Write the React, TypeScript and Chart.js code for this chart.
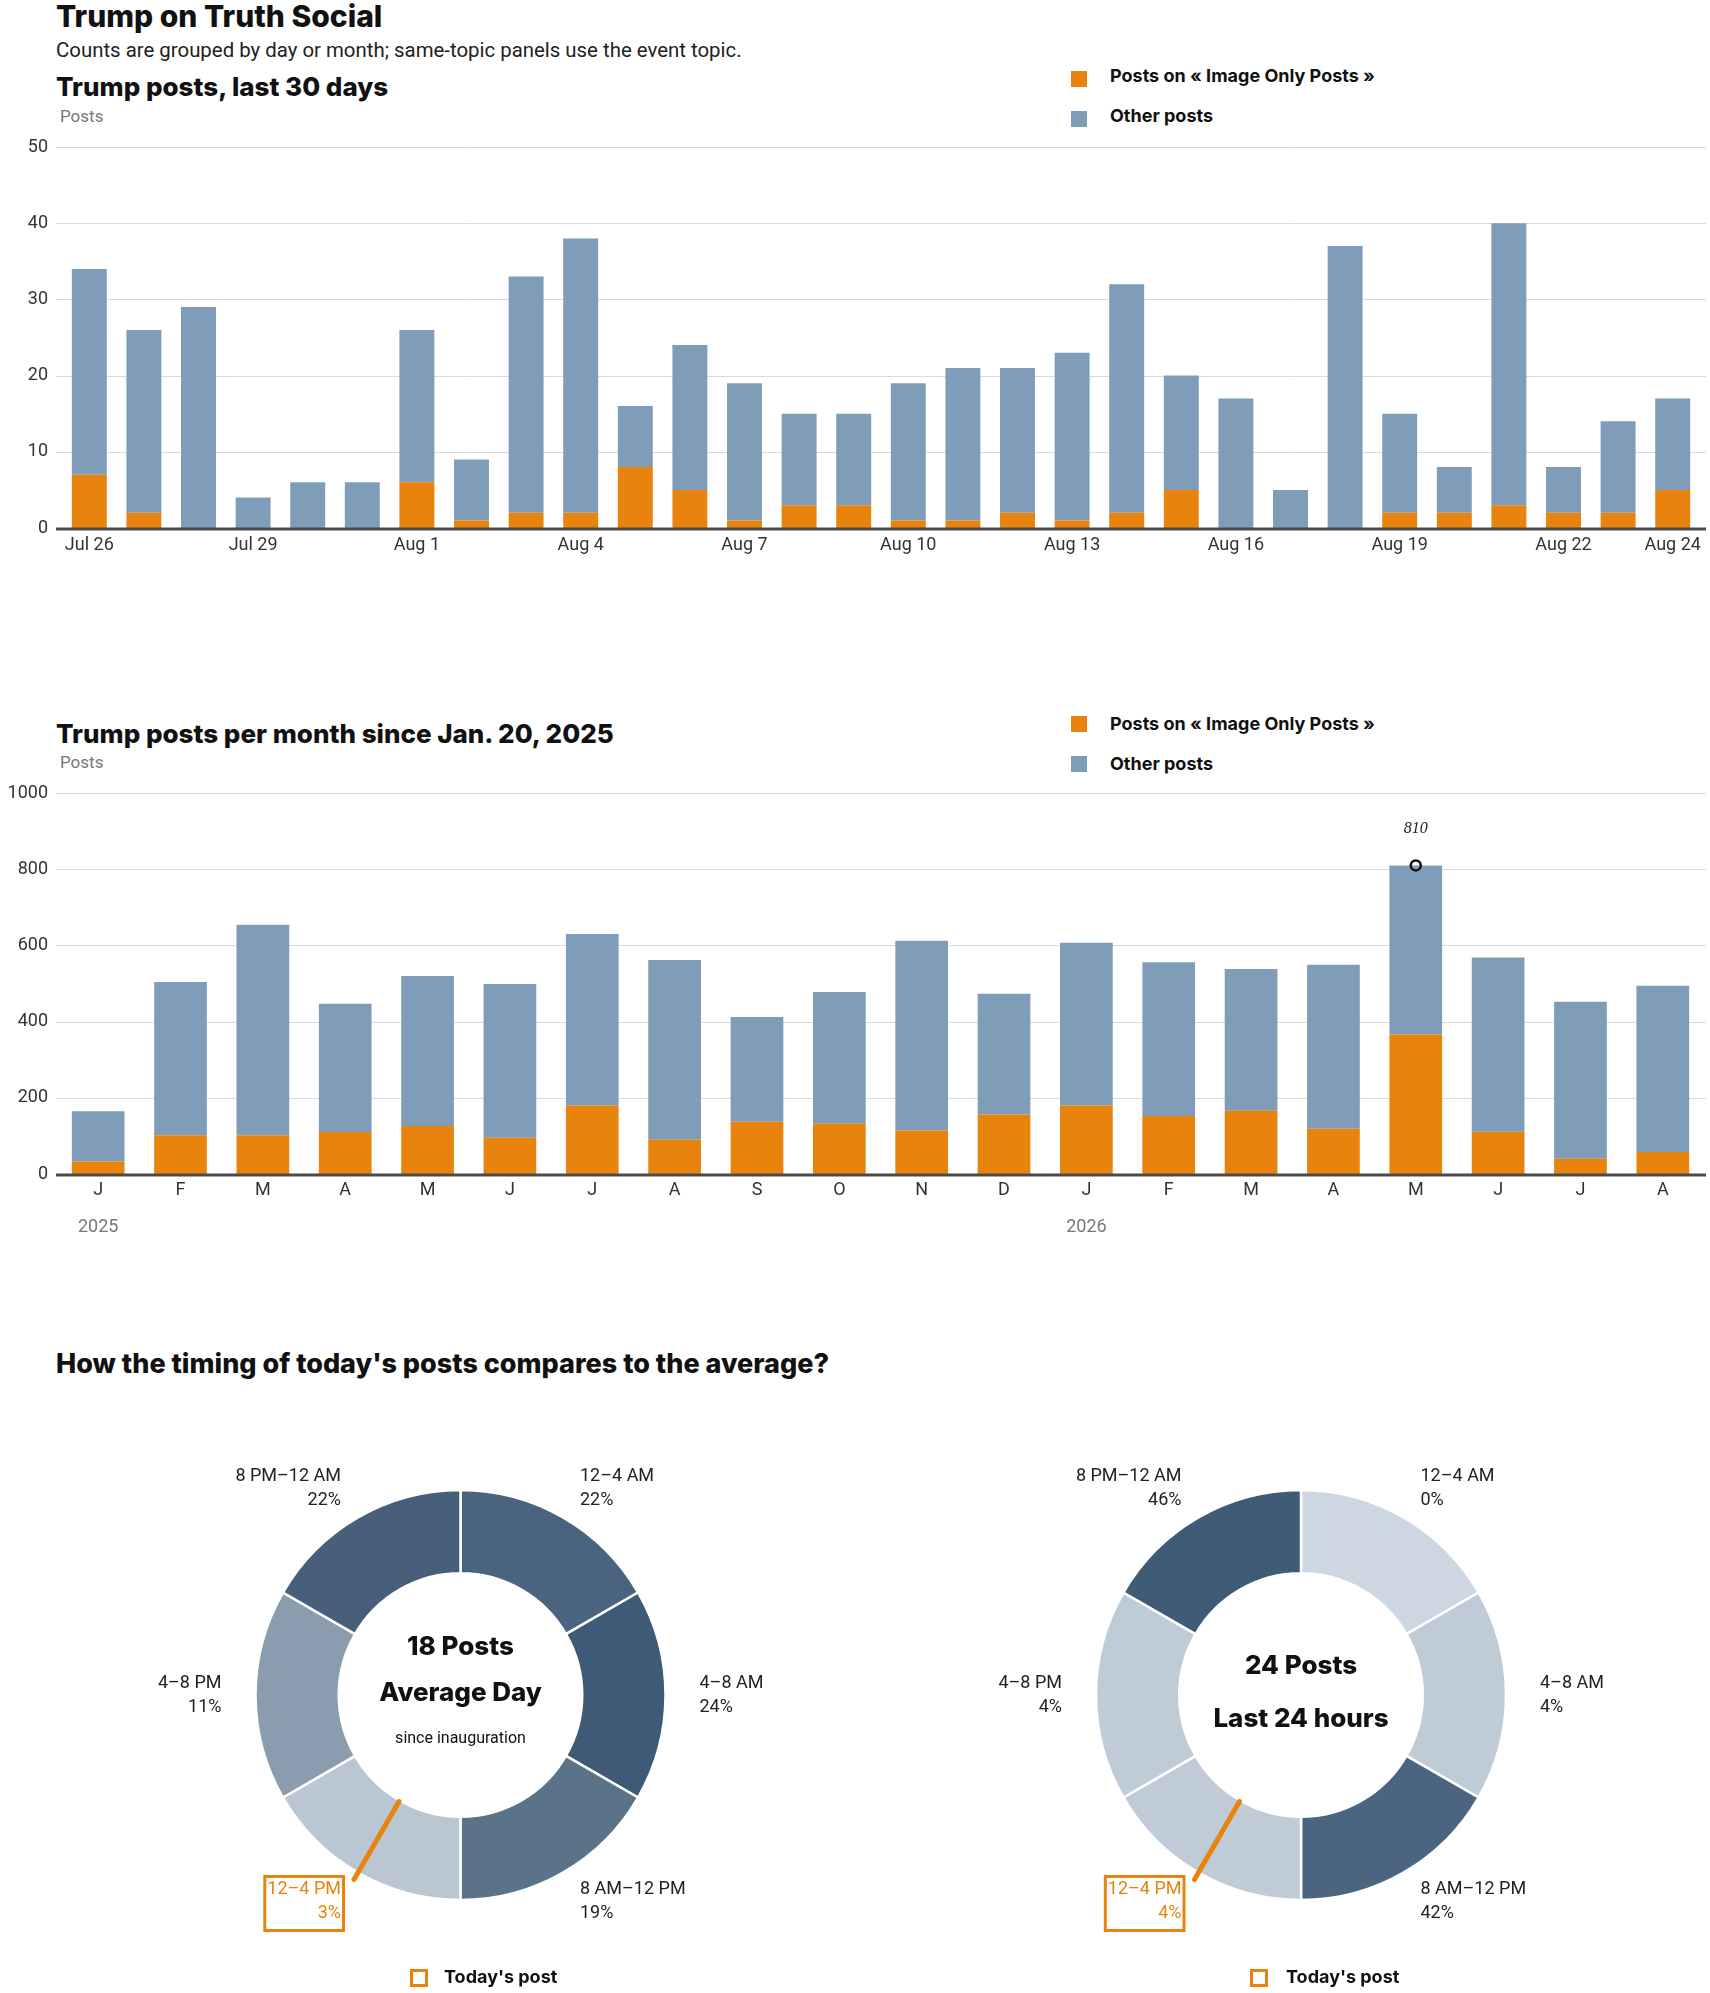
import React, { useEffect, useRef } from 'react';
import Chart from 'chart.js/auto';

const FONT = 'Roboto, "Liberation Sans", Arial, sans-serif';
const HEAVY = 'Inter, Roboto, "Liberation Sans", sans-serif';
const ORANGE = '#e8830e';
const BLUE = '#7f9cb8';
const INK = '#222';

// last 30 days
const dayLabels = [
    'Jul 26', 'Jul 27', 'Jul 28', 'Jul 29', 'Jul 30', 'Jul 31',
    'Aug 1', 'Aug 2', 'Aug 3', 'Aug 4', 'Aug 5', 'Aug 6', 'Aug 7', 'Aug 8', 'Aug 9', 'Aug 10',
    'Aug 11', 'Aug 12', 'Aug 13', 'Aug 14', 'Aug 15', 'Aug 16', 'Aug 17', 'Aug 18', 'Aug 19', 'Aug 20',
    'Aug 21', 'Aug 22', 'Aug 23', 'Aug 24',
];
const dayTickLabels = ['Jul 26', 'Jul 29', 'Aug 1', 'Aug 4', 'Aug 7', 'Aug 10', 'Aug 13', 'Aug 16', 'Aug 19', 'Aug 22', 'Aug 24'];
const dayImageOnly = [7, 2, 0, 0, 0, 0, 6, 1, 2, 2, 8, 5, 1, 3, 3, 1, 1, 2, 1, 2, 5, 0, 0, 0, 2, 2, 3, 2, 2, 5];
const dayOther = [27, 24, 29, 4, 6, 6, 20, 8, 31, 36, 8, 19, 18, 12, 12, 18, 20, 19, 22, 30, 15, 17, 5, 37, 13, 6, 37, 6, 12, 12];
const dayTicks = [0, 10, 20, 30, 40, 50];

// per month since inauguration
const monthLabels = ['J', 'F', 'M', 'A', 'M', 'J', 'J', 'A', 'S', 'O', 'N', 'D', 'J', 'F', 'M', 'A', 'M', 'J', 'J', 'A'];
const monthImageOnly = [33, 102, 102, 110, 126, 95, 180, 90, 137, 132, 114, 156, 180, 152, 166, 119, 366, 111, 40, 58];
const monthOther = [132, 402, 552, 337, 394, 404, 450, 472, 275, 346, 498, 317, 427, 404, 372, 430, 444, 457, 412, 436];
const yearMarks: [number, string][] = [[0, '2025'], [12, '2026']];
const peakIndex = 16;
const peakValue = 810;

// time of day
const hourWindows = ['12–4 AM', '4–8 AM', '8 AM–12 PM', '12–4 PM', '4–8 PM', '8 PM–12 AM'];
const windowHours = [4, 4, 4, 4, 4, 4];
const averageShare = [22, 24, 19, 3, 11, 22];
const last24Share = [0, 4, 42, 4, 4, 46];
const averagePosts = 18;
const last24Posts = 24;
const todayPostHour = 14;
const todayWindow = 3;

const averageColors = ['#4a6480', '#3e5a76', '#5b7389', '#bac7d3', '#8a9cad', '#475f7b'];
const last24Colors = ['#cdd7e1', '#bfcbd7', '#4b6580', '#bfcbd7', '#bfcbd7', '#405b76'];

// grid lines run a bit wider than the bars, like the original
const fullGrid = {
    id: 'fullGrid',
    beforeDatasetsDraw(chart: any, _args: any, opts: any) {
        const { ctx } = chart;
        const y = chart.scales.y;
        ctx.save();
        ctx.strokeStyle = '#dadada';
        ctx.lineWidth = 1;
        y.ticks.forEach((t: any) => {
            if (t.value === 0) return;
            const py = Math.round(y.getPixelForValue(t.value)) + 0.5;
            ctx.beginPath();
            ctx.moveTo(opts.left, py);
            ctx.lineTo(opts.right, py);
            ctx.stroke();
        });
        ctx.restore();
    },
    afterDatasetsDraw(chart: any, _args: any, opts: any) {
        const { ctx } = chart;
        const y0 = chart.scales.y.getPixelForValue(0);
        ctx.save();
        ctx.fillStyle = '#4a4a4a';
        ctx.fillRect(opts.left, y0 - 0.5, opts.right - opts.left, 3);
        ctx.restore();
    },
};

const monthExtras = {
    id: 'monthExtras',
    afterDraw(chart: any) {
        const { ctx } = chart;
        const x = chart.scales.x;
        ctx.save();
        ctx.font = `18px ${FONT}`;
        ctx.fillStyle = '#777';
        ctx.textAlign = 'center';
        ctx.textBaseline = 'middle';
        yearMarks.forEach(([i, text]) => {
            ctx.fillText(text, x.getPixelForValue(i), chart.chartArea.bottom + 53);
        });
        const pt = chart.getDatasetMeta(2).data[peakIndex];
        if (pt) {
            ctx.font = `italic 16px "Liberation Serif", serif`;
            ctx.fillStyle = INK;
            ctx.fillText(String(peakValue), pt.x, pt.y - 37);
        }
        ctx.restore();
    },
};

const donutDeco = {
    id: 'donutDeco',
    afterDatasetsDraw(chart: any, _args: any, opts: any) {
        const { ctx } = chart;
        const arcs = chart.getDatasetMeta(0).data;
        if (!arcs.length) return;
        const cx = arcs[0].x;
        const cy = arcs[0].y;
        ctx.save();

        // today's post tick
        const a = (opts.hour / 24) * Math.PI * 2 - Math.PI / 2;
        ctx.strokeStyle = ORANGE;
        ctx.lineWidth = 5;
        ctx.lineCap = 'round';
        ctx.beginPath();
        ctx.moveTo(cx + 123 * Math.cos(a), cy + 123 * Math.sin(a));
        ctx.lineTo(cx + 213 * Math.cos(a), cy + 213 * Math.sin(a));
        ctx.stroke();

        // slice labels
        ctx.font = `18px ${FONT}`;
        ctx.textBaseline = 'middle';
        arcs.forEach((arc: any, i: number) => {
            const mid = (arc.startAngle + arc.endAngle) / 2;
            const c = Math.cos(mid);
            const s = Math.sin(mid);
            const x = cx + 239 * c;
            const y = cy + 239 * s;
            ctx.textAlign = c > 0.01 ? 'left' : c < -0.01 ? 'right' : 'center';
            const hi = i === opts.highlight;
            ctx.fillStyle = hi ? ORANGE : INK;
            const pct = `${opts.shares[i]}%`;
            ctx.fillText(hourWindows[i], x, y - 12);
            ctx.fillText(pct, x, y + 12);
            if (hi) {
                const w = Math.max(ctx.measureText(hourWindows[i]).width, ctx.measureText(pct).width);
                const left = c < 0 ? x - w - 4 : x - 4;
                ctx.strokeStyle = ORANGE;
                ctx.lineWidth = 3;
                ctx.strokeRect(left + 1.5, y - 27 + 1.5, w + 8 - 3, 57 - 3);
            }
        });

        // centre text
        ctx.textAlign = 'center';
        ctx.fillStyle = '#111';
        opts.center.forEach((line: any) => {
            ctx.font = `${line.weight} ${line.size}px ${line.weight > 500 ? HEAVY : FONT}`;
            ctx.fillText(line.text, cx, cy + line.dy);
        });
        ctx.restore();
    },
};

const tickFont = { family: FONT, size: 18 };

const DailyChart: React.FC = () => {
    const ref = useRef<HTMLCanvasElement>(null);
    useEffect(() => {
        if (!ref.current) return;
        const chart = new Chart(ref.current, {
            type: 'bar',
            data: {
                labels: dayLabels,
                datasets: [
                    { label: 'Posts on « Image Only Posts »', data: dayImageOnly, backgroundColor: ORANGE },
                    { label: 'Other posts', data: dayOther, backgroundColor: BLUE },
                ],
            },
            options: {
                responsive: false,
                animation: false,
                categoryPercentage: 0.64,
                barPercentage: 1,
                layout: { autoPadding: false, padding: { left: 0, right: 10, top: 0, bottom: 0 } },
                plugins: {
                    legend: { display: false },
                    tooltip: { enabled: false },
                    fullGrid: { left: 56, right: 1706 },
                } as any,
                scales: {
                    x: {
                        stacked: true,
                        offset: true,
                        grid: { display: false, drawTicks: false },
                        border: { display: false },
                        ticks: {
                            autoSkip: false,
                            maxRotation: 0,
                            padding: 7,
                            color: '#333',
                            font: tickFont,
                            callback: (_v: any, i: number) => (dayTickLabels.includes(dayLabels[i]) ? dayLabels[i] : ''),
                        },
                        afterFit: (s: any) => { s.height = 32; },
                    },
                    y: {
                        stacked: true,
                        min: dayTicks[0],
                        max: dayTicks[dayTicks.length - 1],
                        grid: { display: false, drawTicks: false },
                        border: { display: false },
                        // small line height keeps the top label from pushing the plot area down
                        ticks: { stepSize: 10, padding: 14, color: '#333', font: { ...tickFont, lineHeight: 6 / 18 }, callback: (v: any) => String(v) },
                        afterFit: (s: any) => { s.width = 62; },
                    },
                },
            },
            plugins: [fullGrid],
        });
        return () => chart.destroy();
    }, []);
    return <canvas ref={ref} width={1710} height={430} style={{ position: 'absolute', left: 0, top: 130, width: 1710, height: 430 }} />;
};

const MonthlyChart: React.FC = () => {
    const ref = useRef<HTMLCanvasElement>(null);
    useEffect(() => {
        if (!ref.current) return;
        const chart = new Chart(ref.current, {
            type: 'bar',
            data: {
                labels: monthLabels,
                datasets: [
                    { label: 'Posts on « Image Only Posts »', data: monthImageOnly, backgroundColor: ORANGE },
                    { label: 'Other posts', data: monthOther, backgroundColor: BLUE },
                    {
                        type: 'line',
                        label: 'peak',
                        stack: 'peak',
                        order: -1,
                        data: monthLabels.map((_, i) => (i === peakIndex ? peakValue : null)),
                        showLine: false,
                        pointRadius: 5,
                        pointBorderWidth: 2.5,
                        pointBorderColor: '#111',
                        pointBackgroundColor: 'rgba(0,0,0,0)',
                    } as any,
                ],
            },
            options: {
                responsive: false,
                animation: false,
                categoryPercentage: 0.64,
                barPercentage: 1,
                layout: { autoPadding: false, padding: { left: 0, right: 6, top: 0, bottom: 0 } },
                plugins: {
                    legend: { display: false },
                    tooltip: { enabled: false },
                    fullGrid: { left: 56, right: 1706 },
                } as any,
                scales: {
                    x: {
                        stacked: true,
                        offset: true,
                        grid: { display: false, drawTicks: false },
                        border: { display: false },
                        ticks: { autoSkip: false, maxRotation: 0, padding: 6, color: '#333', font: tickFont },
                        afterFit: (s: any) => { s.height = 86; },
                    },
                    y: {
                        stacked: true,
                        min: 0,
                        max: 1000,
                        grid: { display: false, drawTicks: false },
                        border: { display: false },
                        ticks: { stepSize: 200, padding: 9, color: '#333', font: { ...tickFont, lineHeight: 8 / 18 }, callback: (v: any) => String(v) },
                        afterFit: (s: any) => { s.width = 57; },
                    },
                },
            },
            plugins: [fullGrid, monthExtras],
        });
        return () => chart.destroy();
    }, []);
    return <canvas ref={ref} width={1710} height={480} style={{ position: 'absolute', left: 0, top: 780, width: 1710, height: 480 }} />;
};

type DonutProps = {
    left: number;
    padding: { left: number; right: number; top: number; bottom: number };
    shares: number[];
    colors: string[];
    center: { text: string; size: number; weight: number; dy: number }[];
};

const Donut: React.FC<DonutProps> = ({ left, padding, shares, colors, center }) => {
    const ref = useRef<HTMLCanvasElement>(null);
    useEffect(() => {
        if (!ref.current) return;
        const chart = new Chart(ref.current, {
            type: 'doughnut',
            data: {
                labels: hourWindows,
                datasets: [{ data: windowHours, backgroundColor: colors, borderColor: '#fff', borderWidth: 2.5, radius: 205, cutout: 121 } as any],
            },
            options: {
                responsive: false,
                animation: false,
                layout: { padding },
                plugins: {
                    legend: { display: false },
                    tooltip: { enabled: false },
                    donutDeco: { hour: todayPostHour, highlight: todayWindow, shares, center },
                } as any,
            },
            plugins: [donutDeco],
        });
        return () => chart.destroy();
    }, []);
    return <canvas ref={ref} width={855} height={593} style={{ position: 'absolute', left, top: 1400, width: 855, height: 593 }} />;
};

const Text: React.FC<{ x: number; y: number; size: number; weight?: number; color?: string; family?: string; children: React.ReactNode }> = ({
    x, y, size, weight = 400, color = '#111', family = FONT, children,
}) => (
    <div
        style={{
            position: 'absolute',
            left: x,
            top: y - 0.486 * size,
            fontFamily: family,
            fontSize: size,
            fontWeight: weight,
            lineHeight: `${size}px`,
            color,
            whiteSpace: 'nowrap',
        }}
    >
        {children}
    </div>
);

const Swatch: React.FC<{ x: number; y: number; color: string; outline?: boolean }> = ({ x, y, color, outline }) => (
    <div
        style={{
            position: 'absolute',
            left: x,
            top: y,
            width: outline ? 18 : 16,
            height: outline ? 18 : 16,
            boxSizing: 'border-box',
            background: outline ? 'transparent' : color,
            border: outline ? `3px solid ${color}` : 'none',
        }}
    />
);

export default function App() {
    return (
        <div style={{ position: 'absolute', left: 0, top: 0, width: 1710, height: 1993, background: '#fff', overflow: 'hidden' }}>
            <Text x={56} y={16} size={30} weight={800} family={HEAVY}>Trump on Truth Social</Text>
            <Text x={56} y={50} size={20.4} color={INK}>Counts are grouped by day or month; same-topic panels use the event topic.</Text>
            <Text x={56} y={87} size={26} weight={800} family={HEAVY}>Trump posts, last 30 days</Text>
            <Text x={60} y={116} size={17} color="#777">Posts</Text>
            <Swatch x={1071} y={71} color={ORANGE} />
            <Text x={1110} y={76} size={18} weight={700} family={HEAVY}>Posts on « Image Only Posts »</Text>
            <Swatch x={1071} y={111} color={BLUE} />
            <Text x={1110} y={116} size={18} weight={700} family={HEAVY}>Other posts</Text>
            <DailyChart />

            <Text x={56} y={734} size={26} weight={800} family={HEAVY}>Trump posts per month since Jan. 20, 2025</Text>
            <Text x={60} y={762} size={17} color="#777">Posts</Text>
            <Swatch x={1071} y={716} color={ORANGE} />
            <Text x={1110} y={724} size={18} weight={700} family={HEAVY}>Posts on « Image Only Posts »</Text>
            <Swatch x={1071} y={756} color={BLUE} />
            <Text x={1110} y={764} size={18} weight={700} family={HEAVY}>Other posts</Text>
            <MonthlyChart />

            <Text x={56} y={1363} size={27} weight={800} family={HEAVY}>How the timing of today's posts compares to the average?</Text>
            <Donut
                left={0}
                padding={{ left: 255, right: 189, top: 90, bottom: 93 }}
                shares={averageShare}
                colors={averageColors}
                center={[
                    { text: `${averagePosts} Posts`, size: 26, weight: 800, dy: -48 },
                    { text: 'Average Day', size: 26, weight: 800, dy: -2 },
                    { text: 'since inauguration', size: 16, weight: 400, dy: 44 },
                ]}
            />
            <Donut
                left={855}
                padding={{ left: 241, right: 204, top: 90, bottom: 93 }}
                shares={last24Share}
                colors={last24Colors}
                center={[
                    { text: `${last24Posts} Posts`, size: 26, weight: 800, dy: -29 },
                    { text: 'Last 24 hours', size: 26, weight: 800, dy: 24 },
                ]}
            />
            <Swatch x={410} y={1969} color={ORANGE} outline />
            <Text x={444} y={1977} size={18} weight={700} family={HEAVY}>Today's post</Text>
            <Swatch x={1250} y={1969} color={ORANGE} outline />
            <Text x={1286} y={1977} size={18} weight={700} family={HEAVY}>Today's post</Text>
        </div>
    );
}
